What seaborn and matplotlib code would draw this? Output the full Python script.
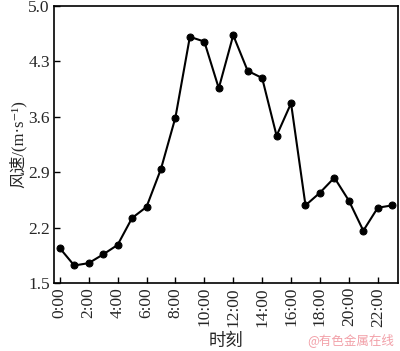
import numpy as np
import pandas as pd
import matplotlib
matplotlib.use("Agg")
import matplotlib.pyplot as plt
import seaborn as sns

# hourly wind speed
hours = list(range(24))
speed = [1.94, 1.72, 1.75, 1.86, 1.98, 2.32, 2.46, 2.94, 3.59, 4.61, 4.55, 3.96,
         4.63, 4.18, 4.09, 3.36, 3.77, 2.48, 2.64, 2.83, 2.54, 2.16, 2.45, 2.48]
xtick_hours = list(range(0, 24, 2))
xtick_labels = [f"{h}:00" for h in xtick_hours]
yticks = [1.5, 2.2, 2.9, 3.6, 4.3, 5.0]

df = pd.DataFrame({"hour": hours, "speed": speed})

sns.set_style("ticks")
plt.rcParams['font.family'] = ['Liberation Serif', 'Noto Sans CJK SC', 'DejaVu Serif']

fig = plt.figure(figsize=(4.0, 3.51), dpi=100)
ax = fig.add_axes([0.135, 0.194, 0.86, 0.789])

sns.lineplot(data=df, x="hour", y="speed", ax=ax, color="black", lw=1.5,
             marker="o", markersize=5, markeredgecolor="black")

ax.set_xlim(-0.4, 23.4)
ax.set_ylim(1.5, 5.0)
ax.set_xticks(xtick_hours)
ax.set_xticklabels(xtick_labels, rotation=90, fontsize=12.5)
ax.set_yticks(yticks)
ax.set_yticklabels([f"{v:.1f}" for v in yticks], fontsize=12.5)
ax.tick_params(direction="in", length=4, width=1, color="black", pad=3)
for s in ax.spines.values():
    s.set_linewidth(1.2)
    s.set_color("black")

ax.set_xlabel("")
fig.text(0.565, 0.03, "时刻", fontsize=12.5, ha="center", va="center",
         family=['Noto Sans CJK SC'])
ax.set_ylabel("风速/(m·s⁻¹)", fontsize=12, labelpad=1,
              family=['Liberation Serif', 'Noto Sans CJK SC', 'DejaVu Serif'])

fig.text(0.985, 0.01, "@有色金属在线", color="#f2a0a8", fontsize=9,
         ha="right", va="bottom", family=['Noto Sans CJK SC'])

fig.savefig("out.png", dpi=100)
